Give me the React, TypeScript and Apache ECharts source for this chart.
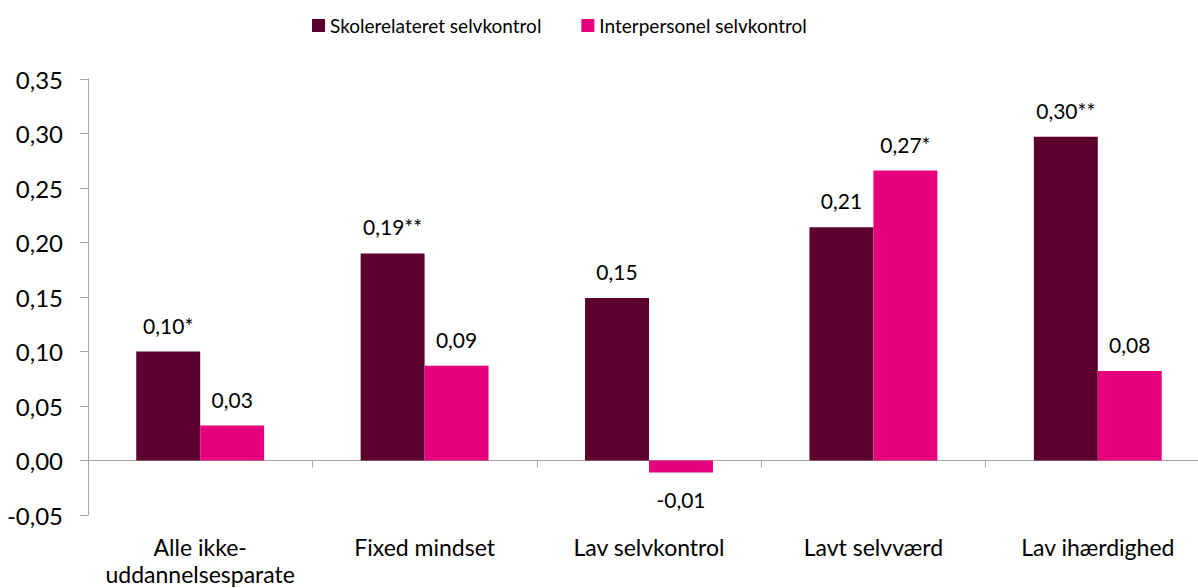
import React, { useEffect, useRef } from "react";
import * as echarts from "echarts";

const categories = ["Alle ikke-\nuddannelsesparate", "Fixed mindset", "Lav selvkontrol", "Lavt selvværd", "Lav ihærdighed"];
const seriesNames = ["Skolerelateret selvkontrol", "Interpersonel selvkontrol"];
const skoleValues = [0.1, 0.19, 0.149, 0.214, 0.297];
const skoleLabels = ["0,10*", "0,19**", "0,15", "0,21", "0,30**"];
const interValues = [0.032, 0.087, -0.011, 0.266, 0.082];
const interLabels = ["0,03", "0,09", "-0,01", "0,27*", "0,08"];
const colors = ["#5C002E", "#E6007E"];

const FONT = "Lato, 'Open Sans', sans-serif";

export default function App() {
  const ref = useRef<HTMLDivElement>(null);
  useEffect(() => {
    if (!ref.current) return;
    const chart = echarts.init(ref.current, null, { renderer: "svg" });
    const mk = (vals: number[], labels: string[]) =>
      vals.map((v, i) => ({
        value: v,
        label: {
          show: true,
          position: v < 0 ? "bottom" : "top",
          distance: v < 0 ? 17 : 16,
          formatter: labels[i],
        },
      }));
    chart.setOption({
      animation: false,
      color: colors,
      textStyle: { fontFamily: FONT },
      legend: {
        top: 16,
        left: 312,
        padding: 0,
        itemWidth: 13,
        itemHeight: 13,
        itemGap: 40,
        icon: "rect",
        textStyle: { fontSize: 19, color: "#000", fontFamily: FONT },
        data: seriesNames,
      },
      grid: { left: 88, right: -12, top: 79, bottom: 73, containLabel: false, outerBoundsMode: "none" },
      xAxis: {
        type: "category",
        data: categories,
        axisLine: { onZero: true, lineStyle: { color: "#A6A6A6", width: 1 } },
        axisTick: { show: true, length: 7, lineStyle: { color: "#A6A6A6" } },
        axisLabel: { color: "#000", fontSize: 23, margin: 18, lineHeight: 27, fontFamily: FONT, interval: 0 },
      },
      yAxis: {
        type: "value",
        min: -0.05,
        max: 0.35,
        interval: 0.05,
        splitLine: { show: false },
        axisLine: { show: true, lineStyle: { color: "#A6A6A6" } },
        axisTick: { show: true, length: 8, lineStyle: { color: "#A6A6A6" } },
        axisLabel: {
          color: "#000",
          fontSize: 24,
          margin: 25,
          fontFamily: FONT,
          formatter: (v: number) => (v < 0 ? "-" : "") + Math.abs(v).toFixed(2).replace(".", ","),
        },
      },
      series: [
        {
          name: seriesNames[0],
          type: "bar",
          barGap: "0%",
          barCategoryGap: "43%",
          data: mk(skoleValues, skoleLabels),
          label: { color: "#000", fontSize: 21, fontFamily: FONT },
        },
        {
          name: seriesNames[1],
          type: "bar",
          barGap: "0%",
          barCategoryGap: "43%",
          data: mk(interValues, interLabels),
          label: { color: "#000", fontSize: 21, fontFamily: FONT },
        },
      ],
    });
    return () => chart.dispose();
  }, []);
  return <div ref={ref} style={{ width: 1198, height: 588, position: "absolute", left: 0, top: 0 }} />;
}
